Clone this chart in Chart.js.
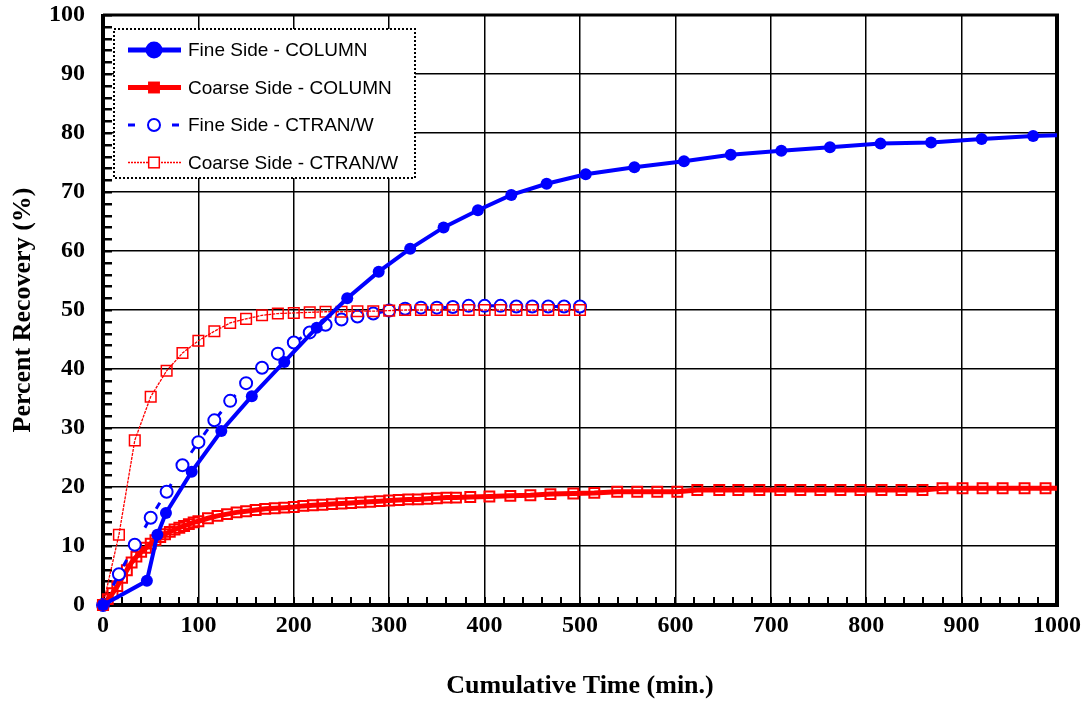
<!DOCTYPE html>
<html>
<head>
<meta charset="utf-8">
<script src="https://cdn.jsdelivr.net/npm/chart.js@4.4.1/dist/chart.umd.min.js"></script>
<style>
    html, body { margin: 0; padding: 0; background: #fff; }
    #wrap { width: 1085px; height: 706px; }
</style>
</head>
<body>
<div id="wrap"><canvas id="chart" width="1085" height="706"></canvas></div>
<script>
// Series labels (legend order)
const seriesLabels = ['Fine Side - COLUMN', 'Coarse Side - COLUMN', 'Fine Side - CTRAN/W', 'Coarse Side - CTRAN/W'];

// Fine Side - COLUMN
const fineColTime = [0, 46, 57, 66, 93, 124, 156, 190, 224, 256, 289, 322, 357, 393, 428, 465, 506, 557, 609, 658, 711, 762, 815, 868, 921, 975, 1030];
const fineColRec = [0, 4.1, 11.9, 15.6, 22.6, 29.5, 35.4, 41.2, 47.0, 52.0, 56.5, 60.4, 64.0, 66.9, 69.5, 71.4, 73.0, 74.2, 75.2, 76.3, 77.0, 77.6, 78.2, 78.4, 79.0, 79.5, 79.8];

// Coarse Side - COLUMN
const coarseColTime = [0, 5, 10, 15, 20, 25, 30, 35, 40, 45, 50, 55, 60, 65, 70, 75, 80, 85, 90, 95,
    100, 110, 120, 130, 140, 150, 160, 170, 180, 190, 200, 210, 220, 230, 240, 250, 260, 270, 280, 290,
    300, 310, 320, 330, 340, 350, 360, 370, 385, 405, 427, 448, 469, 493, 515, 539, 560, 581, 602, 623,
    646, 666, 688, 710, 731, 752, 773, 794, 816, 837, 859, 880, 901, 922, 943, 966, 988, 1010];
const coarseColRec = [0, 1.0, 2.0, 3.2, 4.6, 5.9, 7.2, 8.2, 9.0, 9.7, 10.4, 11.0, 11.5, 12.0, 12.4, 12.8, 13.1, 13.4, 13.7, 14.0,
    14.2, 14.7, 15.1, 15.4, 15.7, 15.9, 16.1, 16.3, 16.4, 16.5, 16.6, 16.8, 16.9, 17.0, 17.1, 17.2, 17.3, 17.4, 17.5, 17.6,
    17.7, 17.8, 17.9, 17.9, 18.0, 18.1, 18.2, 18.2, 18.3, 18.4, 18.5, 18.6, 18.8, 18.9, 19.0, 19.2, 19.2, 19.2, 19.2, 19.5,
    19.5, 19.5, 19.5, 19.5, 19.5, 19.5, 19.5, 19.5, 19.5, 19.5, 19.5, 19.8, 19.8, 19.8, 19.8, 19.8, 19.8, 19.8];

// CTRAN/W model output times (both sides)
const ctranTime = [0, 16.7, 33.3, 50, 66.7, 83.3, 100, 116.7, 133.3, 150, 166.7, 183.3, 200, 216.7, 233.3,
    250, 266.7, 283.3, 300, 316.7, 333.3, 350, 366.7, 383.3, 400, 416.7, 433.3, 450, 466.7, 483.3, 500];
const fineCtranRec = [0, 5.2, 10.2, 14.8, 19.2, 23.7, 27.6, 31.3, 34.6, 37.6, 40.2, 42.6, 44.5, 46.2, 47.5,
    48.4, 48.9, 49.4, 49.9, 50.2, 50.4, 50.4, 50.5, 50.7, 50.7, 50.7, 50.6, 50.6, 50.6, 50.6, 50.6];
const coarseCtranRec = [0, 11.9, 27.9, 35.3, 39.7, 42.7, 44.8, 46.4, 47.8, 48.5, 49.1, 49.4, 49.5, 49.6, 49.7,
    49.7, 49.8, 49.8, 49.9, 50.0, 50.0, 50.0, 50.0, 50.0, 50.0, 50.0, 50.0, 50.0, 50.0, 50.0, 50.0];

// Axis ticks
const xTicks = [0, 100, 200, 300, 400, 500, 600, 700, 800, 900, 1000];
const yTicks = [0, 10, 20, 30, 40, 50, 60, 70, 80, 90, 100];

const BLUE = '#0000ff';
const RED = '#ff0000';
const serifFamily = "'Liberation Serif', 'Times New Roman', serif";
const tickFont = { family: serifFamily, weight: 'bold', size: 24 };
const titleFont = { family: serifFamily, weight: 'bold', size: 26 };

function toPoints(xs, ys) {
    return xs.map((x, i) => ({ x: x, y: ys[i] }));
}

// keep markers at the origin visible, but cut lines at the right/top frame
const edgeClip = { left: 14, bottom: 14, top: 0, right: 0 };

const datasets = [
    {
        label: seriesLabels[0],
        data: toPoints(fineColTime, fineColRec),
        borderColor: BLUE, borderWidth: 4,
        pointStyle: 'circle', pointRadius: 6,
        pointBackgroundColor: BLUE, pointBorderColor: BLUE, pointBorderWidth: 0,
        order: 0, clip: edgeClip
    },
    {
        label: seriesLabels[1],
        data: toPoints(coarseColTime, coarseColRec),
        borderColor: RED, borderWidth: 5,
        pointStyle: 'rect', pointRadius: 7,
        pointBackgroundColor: 'rgba(255,255,255,0)', pointBorderColor: RED, pointBorderWidth: 2,
        order: 3, clip: edgeClip
    },
    {
        label: seriesLabels[2],
        data: toPoints(ctranTime, fineCtranRec),
        borderColor: BLUE, borderWidth: 3, borderDash: [7, 15],
        pointStyle: 'circle', pointRadius: 6,
        pointBackgroundColor: '#ffffff', pointBorderColor: BLUE, pointBorderWidth: 2,
        order: 2, clip: edgeClip
    },
    {
        label: seriesLabels[3],
        data: toPoints(ctranTime, coarseCtranRec),
        borderColor: RED, borderWidth: 1.3, borderDash: [3, 1],
        pointStyle: 'rect', pointRadius: 7.5,
        pointBackgroundColor: 'rgba(255,255,255,0)', pointBorderColor: RED, pointBorderWidth: 1.5,
        order: 1, clip: edgeClip
    }
];

// Frame, inner minor ticks and the boxed legend
const framePlugin = {
    id: 'frame',
    beforeDatasetsDraw(chart) {
        const { ctx, chartArea: a, scales } = chart;
        ctx.save();
        ctx.strokeStyle = '#000';
        // minor ticks on y (every 2 %)
        ctx.lineWidth = 2.5;
        for (let v = 0; v <= 100; v += 2) {
            const y = Math.round(scales.y.getPixelForValue(v)) + 0.25;
            ctx.beginPath();
            ctx.moveTo(a.left, y);
            ctx.lineTo(a.left + 9, y);
            ctx.stroke();
        }
        // minor ticks on x (every 20 min)
        ctx.lineWidth = 2;
        for (let v = 0; v <= 1000; v += 20) {
            const x = Math.round(scales.x.getPixelForValue(v));
            ctx.beginPath();
            ctx.moveTo(x, a.bottom);
            ctx.lineTo(x, a.bottom - 8);
            ctx.stroke();
        }
        // plot frame
        ctx.lineWidth = 4;
        ctx.beginPath();
        ctx.moveTo(a.left, a.top - 1);
        ctx.lineTo(a.left, a.bottom + 2);
        ctx.moveTo(a.left - 2, a.bottom);
        ctx.lineTo(a.right + 2, a.bottom);
        ctx.moveTo(a.right, a.bottom);
        ctx.lineTo(a.right, a.top - 1);
        ctx.stroke();
        ctx.lineWidth = 3;
        ctx.beginPath();
        ctx.moveTo(a.left, a.top);
        ctx.lineTo(a.right + 2, a.top);
        ctx.stroke();
        ctx.restore();
    },
    afterDatasetsDraw(chart) {
        const { ctx, chartArea: a } = chart;
        const bx = a.left + 11, by = a.top + 14, bw = 301, bh = 149;
        ctx.save();
        ctx.fillStyle = '#fff';
        ctx.fillRect(bx, by, bw, bh);
        ctx.strokeStyle = '#000';
        ctx.lineWidth = 2;
        ctx.setLineDash([2, 2]);
        ctx.strokeRect(bx, by, bw, bh);

        chart.data.datasets.forEach((ds, i) => {
            const cy = by + 21 + i * 37.5;
            const x0 = bx + 14, x1 = bx + 67, cx = bx + 40;
            ctx.setLineDash(i === 2 ? [7, 15] : (i === 3 ? [2, 1] : []));
            ctx.strokeStyle = ds.borderColor;
            ctx.lineWidth = i < 2 ? 5 : ds.borderWidth;
            ctx.beginPath();
            ctx.moveTo(x0, cy);
            ctx.lineTo(x1, cy);
            ctx.stroke();
            ctx.setLineDash([]);
            ctx.lineWidth = ds.pointBorderWidth || 0;
            ctx.strokeStyle = ds.pointBorderColor;
            if (ds.pointStyle === 'circle') {
                ctx.beginPath();
                ctx.arc(cx, cy, ds.pointRadius, 0, Math.PI * 2);
                ctx.fillStyle = ds.pointBackgroundColor;
                ctx.fill();
                if (ctx.lineWidth) ctx.stroke();
            } else {
                const s = ds.pointRadius * Math.SQRT1_2;
                ctx.fillStyle = i === 1 ? RED : '#fff';
                ctx.fillRect(cx - s, cy - s, 2 * s, 2 * s);
                ctx.strokeRect(cx - s, cy - s, 2 * s, 2 * s);
            }
            ctx.fillStyle = '#000';
            ctx.font = "19px 'Liberation Sans', Arial, sans-serif";
            ctx.textBaseline = 'middle';
            ctx.textAlign = 'left';
            ctx.fillText(ds.label, bx + 74, cy + 1);
        });
        ctx.restore();
    }
};

new Chart(document.getElementById('chart'), {
    type: 'line',
    data: { datasets: datasets },
    options: {
        responsive: false,
        animation: false,
        layout: { padding: { top: 15, right: 28, left: 0, bottom: 0 } },
        plugins: {
            legend: { display: false },
            tooltip: { enabled: false }
        },
        elements: { line: { tension: 0 } },
        scales: {
            x: {
                type: 'linear',
                min: 0, max: 1000,
                afterBuildTicks: (scale) => { scale.ticks = xTicks.map(v => ({ value: v })); },
                afterFit: (scale) => {
                    scale.height = 101;
                    scale.paddingLeft = 0;
                    scale.paddingRight = 0;
                },
                grid: { color: '#000', lineWidth: 1.5, drawTicks: false },
                border: { display: false },
                ticks: { color: '#000', font: tickFont, padding: 6, maxRotation: 0, callback: (v) => String(v) },
                title: {
                    display: true, text: 'Cumulative Time (min.)', color: '#000',
                    font: titleFont, padding: { top: 0, bottom: 4 }
                }
            },
            y: {
                type: 'linear',
                min: 0, max: 100,
                afterBuildTicks: (scale) => { scale.ticks = yTicks.map(v => ({ value: v })); },
                afterFit: (scale) => {
                    scale.width = 103;
                    scale.paddingTop = 0;
                    scale.paddingBottom = 0;
                },
                grid: { color: '#000', lineWidth: 1.5, drawTicks: false },
                border: { display: false },
                ticks: { color: '#000', font: tickFont, padding: 18, callback: (v) => String(v) },
                title: {
                    display: true, text: 'Percent Recovery (%)', color: '#000',
                    font: titleFont, padding: { top: 8, bottom: 0 }
                }
            }
        }
    },
    plugins: [framePlugin]
});
</script>
</body>
</html>
